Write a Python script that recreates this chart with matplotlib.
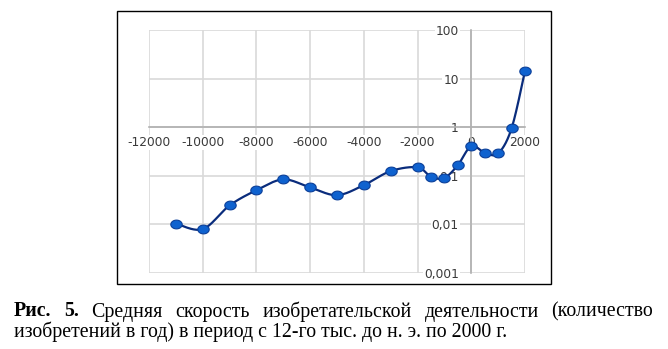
import numpy as np
import matplotlib.pyplot as plt
from matplotlib.patches import Rectangle
from matplotlib.path import Path

# data
years = [-11000, -10000, -9000, -8000, -7000, -6000, -5000, -4000, -3000,
         -2000, -1500, -1000, -500, 0, 500, 1000, 1500, 2000]
rate = [0.0103, 0.0079, 0.0243, 0.050, 0.0835, 0.057, 0.0396, 0.0637, 0.124,
        0.148, 0.0945, 0.090, 0.165, 0.406, 0.295, 0.287, 0.94, 14.3]

x_ticks = list(range(-12000, 2001, 2000))
x_labels = [str(v) for v in x_ticks]
y_ticks = [0.001, 0.01, 0.1, 1, 10, 100]
y_labels = ['0,001', '0,01', '0,1', '1', '10', '100']

caption_bold = ['Рис.', '5.']
caption_words = ['Средняя', 'скорость', 'изобретательской', 'деятельности', '(количество']
caption_line2 = 'изобретений в год) в период с 12-го тыс. до н. э. по 2000 г.'


def smooth(xs, ys, n=24):
    # excel-like smoothed line: bezier through the points, in (x, log y)
    p = np.column_stack([xs, np.log10(ys)])
    p = np.vstack([p[0], p, p[-1]])
    t = np.linspace(0, 1, n)[:, None]
    out = []
    for i in range(1, len(p) - 2):
        p0, p1, p2, p3 = p[i - 1], p[i], p[i + 1], p[i + 2]
        c1 = p1 + (p2 - p0) / 6
        c2 = p2 - (p3 - p1) / 6
        out.append((1 - t) ** 3 * p1 + 3 * (1 - t) ** 2 * t * c1
                   + 3 * (1 - t) * t ** 2 * c2 + t ** 3 * p2)
    out = np.vstack(out)
    return out[:, 0], 10 ** out[:, 1]


# slightly wide oval marker (the picture is stretched sideways)
ang = np.linspace(0, 2 * np.pi, 40)
oval = Path(np.column_stack([1.3 * np.cos(ang), np.sin(ang)]), closed=True)

W, H = 668, 349
fig = plt.figure(figsize=(W / 100, H / 100), dpi=100)
ax = fig.add_axes([149 / W, 1 - 272.7 / H, 376 / W, 242.7 / H])

ax.set_yscale('log')
ax.set_xlim(-12000, 2000)
ax.set_ylim(0.001, 100)
ax.set_xticks(x_ticks, x_labels)
ax.set_yticks(y_ticks, y_labels)
ax.yaxis.set_minor_locator(plt.NullLocator())
ax.grid(True, color='#d9d9d9', lw=1.2)
ax.set_axisbelow(True)

for s in ['top', 'right']:
    ax.spines[s].set_visible(False)
ax.spines['left'].set_position(('data', 0))
ax.spines['bottom'].set_position(('data', 1))
for s in ['left', 'bottom']:
    ax.spines[s].set_color('#b0b0b0')
    ax.spines[s].set_linewidth(1.2)

ax.tick_params(length=0, labelsize=8.8, labelcolor='#3a3a3a')
ax.tick_params(axis='y', pad=9)
ax.tick_params(axis='x', pad=6.5)
for lbl in ax.get_xticklabels() + ax.get_yticklabels():
    lbl.set_bbox(dict(fc='white', ec='none', pad=0.6))

sx, sy = smooth(years, rate)
ax.plot(sx, sy, color='#0a2c7c', lw=1.6, zorder=3, clip_on=False)
ax.plot(years, rate, marker=oval, ls='none', ms=8.2, mfc='#0f62cf',
        mec='#0b3f99', mew=0.8, zorder=4, clip_on=False)

fig.patches.append(Rectangle((117 / W, 1 - 284 / H), 434 / W, 273 / H,
                             transform=fig.transFigure, fill=False,
                             ec='black', lw=1))

# caption, first line justified between x=14 and x=653 px
fs = 14.3
serif = 'Liberation Serif'
renderer = fig.canvas.get_renderer()
texts = []
for w in caption_bold:
    texts.append(fig.text(0, 1 - 316.5 / H, w, fontsize=fs, family=serif,
                          weight='bold', va='baseline'))
for w in caption_words:
    texts.append(fig.text(0, 1 - 316.5 / H, w, fontsize=fs, family=serif,
                          va='baseline'))
widths = [t.get_window_extent(renderer).width for t in texts]
left, right = 14, 653
gap = (right - left - sum(widths)) / (len(texts) - 1)
x = left
for t, w in zip(texts, widths):
    t.set_x(x / W)
    x += w + gap

fig.text(14 / W, 1 - 337 / H, caption_line2, fontsize=fs, family=serif,
         va='baseline')

fig.savefig('out.png', dpi=100)
